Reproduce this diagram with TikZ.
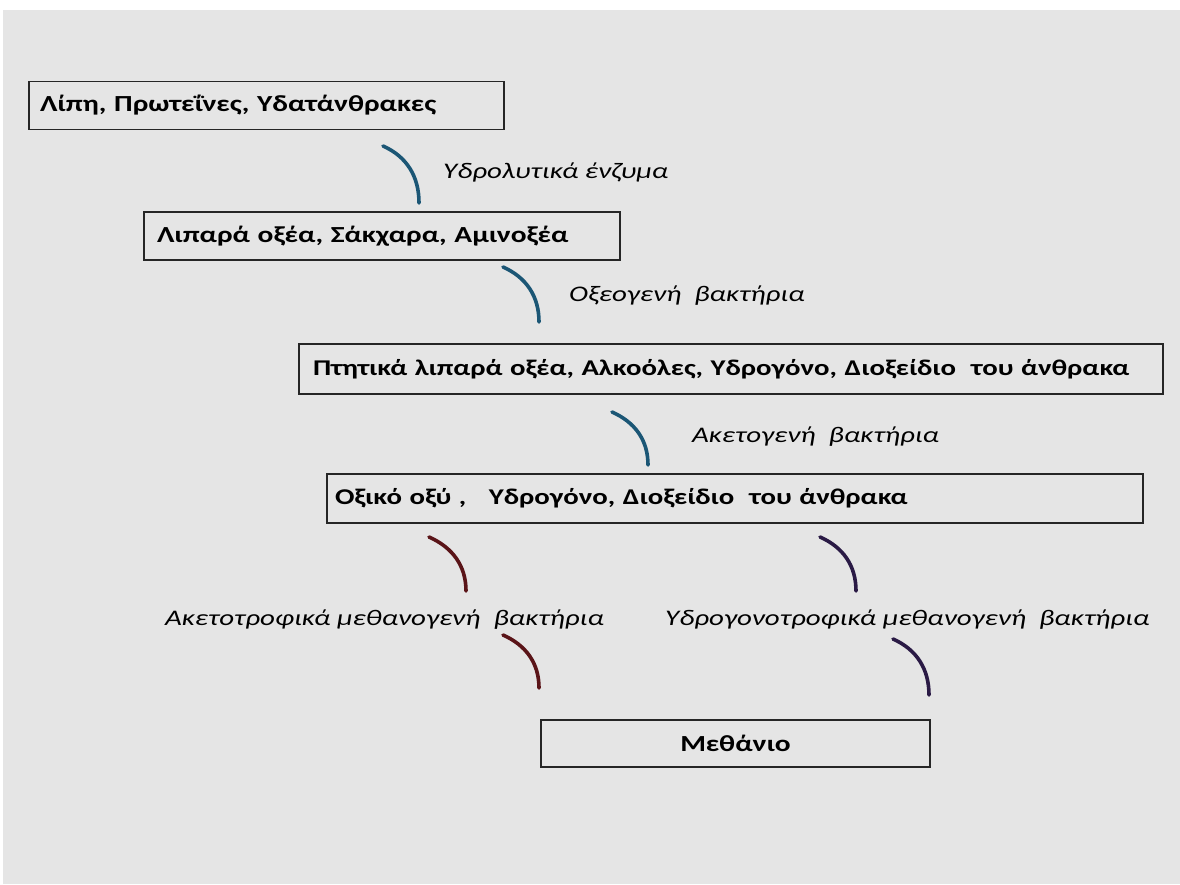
\documentclass[tikz,border=0pt]{standalone}
\usepackage{fontspec}
\setmainfont{Carlito}
\newfontfamily\boxfont[FakeStretch=1.28]{Carlito}
\newfontfamily\labelfont[FakeStretch=1.3]{Carlito}
\definecolor{bggray}{HTML}{E5E5E5}
\definecolor{arcteal}{HTML}{1B5675}
\definecolor{arcred}{HTML}{5A1418}
\definecolor{arcpurple}{HTML}{2A1A45}
\tikzset{
  stage/.style={draw=black!85, line width=1.8pt, inner ysep=0pt, minimum height=48pt,
    align=left, font=\boxfont\bfseries\fontsize{23}{27}\selectfont},
  enzyme/.style={anchor=west, inner sep=0pt, font=\labelfont\itshape\fontsize{22.3}{26}\selectfont},
  link/.style={line width=3.6pt, line cap=round},
}
\begin{document}
\begin{tikzpicture}[x=1pt,y=1pt]
  \useasboundingbox (0,0) rectangle (1180,884);
  \fill[bggray] (3,0) rectangle (1180,874);
  % stages
  \node[stage, minimum width=475pt, text width=453pt, inner xsep=11pt] (fats) at (266.5,778.5) {Λίπη, Πρωτεΐνες, Υδατάνθρακες};
  \node[stage, minimum width=476pt, text width=450pt, inner xsep=13pt] (sugars) at (382,648) {Λιπαρά οξέα, Σάκχαρα, Αμινοξέα};
  \node[stage, minimum width=864pt, text width=836pt, inner xsep=14pt, minimum height=50pt,
    font=\boxfont\bfseries\fontsize{22.5}{27}\selectfont] (volatile) at (731,515) {Πτητικά λιπαρά οξέα, Αλκοόλες, Υδρογόνο, Διοξείδιο\ \ του άνθρακα};
  \node[stage, minimum width=816pt, text width=800pt, inner xsep=8pt, minimum height=49pt,
    font=\boxfont\bfseries\fontsize{22.5}{27}\selectfont] (acetic) at (735,385.5) {Οξικό οξύ ,\ \ \ Υδρογόνο, Διοξείδιο\ \ του άνθρακα};
  \node[stage, minimum width=389pt, align=center, minimum height=47pt] (methane) at (735.5,140.5) {Μεθάνιο};
  % enzymes and bacteria
  \node[enzyme] (hydrolytic) at (443,712) {Υδρολυτικά ένζυμα};
  \node[enzyme] (acidogenic) at (569,588) {Οξεογενή\ \ βακτήρια};
  \node[enzyme] (acetogenic) at (692,447) {Ακετογενή\ \ βακτήρια};
  \node[enzyme] (acetotrophic) at (165,264) {Ακετοτροφικά μεθανογενή\ \ βακτήρια};
  \node[enzyme] (hydrogenotrophic) at (665,264) {Υδρογονοτροφικά μεθανογενή\ \ βακτήρια};
  % arcs
  \coordinate (a1s) at (383,738); \coordinate (a1e) at (419,681);
  \coordinate (a2s) at (503,617); \coordinate (a2e) at (539,562);
  \coordinate (a3s) at (612,472); \coordinate (a3e) at (648,419);
  \coordinate (a4s) at (429,347); \coordinate (a4e) at (466,293);
  \coordinate (a5s) at (503,249); \coordinate (a5e) at (539,196);
  \coordinate (a6s) at (820,347); \coordinate (a6e) at (856,293);
  \coordinate (a7s) at (893,245); \coordinate (a7e) at (929,189);
  \draw[link, arcteal] (a1s) to[out=-24, in=90] (a1e);
  \draw[link, arcteal] (a2s) to[out=-24, in=90] (a2e);
  \draw[link, arcteal] (a3s) to[out=-24, in=90] (a3e);
  \draw[link, arcred] (a4s) to[out=-24, in=90] (a4e);
  \draw[link, arcred] (a5s) to[out=-24, in=90] (a5e);
  \draw[link, arcpurple] (a6s) to[out=-24, in=90] (a6e);
  \draw[link, arcpurple] (a7s) to[out=-24, in=90] (a7e);
\end{tikzpicture}
\end{document}
